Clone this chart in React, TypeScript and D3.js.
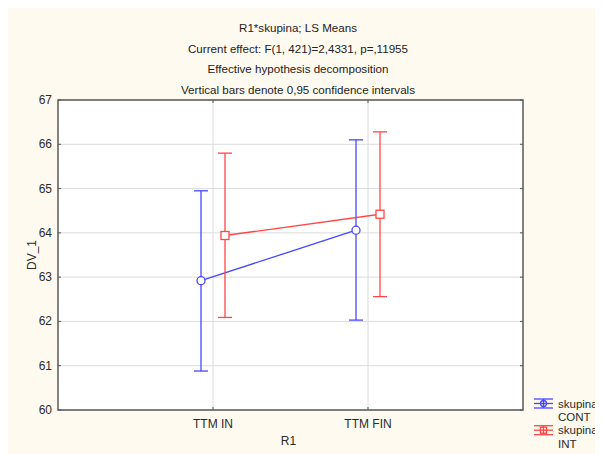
import React from "react";
import * as d3 from "d3";

const categories = ["TTM IN", "TTM FIN"];
const groups = ["CONT", "INT"];
const means = {
  CONT: [62.92, 64.06],
  INT: [63.94, 64.42],
};
const lower = {
  CONT: [60.88, 62.03],
  INT: [62.09, 62.56],
};
const upper = {
  CONT: [64.95, 66.1],
  INT: [65.8, 66.28],
};
const yTicks = [60, 61, 62, 63, 64, 65, 66, 67];
const titleLines = [
  "R1*skupina; LS Means",
  "Current effect: F(1, 421)=2,4331, p=,11955",
  "Effective hypothesis decomposition",
  "Vertical bars denote 0,95 confidence intervals",
];
const colors: Record<string, string> = { CONT: "#4646ff", INT: "#ff4646" };
const offsets: Record<string, number> = { CONT: -12, INT: 12 };

const FONT = "'Liberation Sans', Arial, sans-serif";

export default function App() {
  const left = 58, right = 523, top = 100, bottom = 410;
  const y = d3.scaleLinear().domain([60, 67]).range([bottom, top]);
  const x = d3.scalePoint<string>().domain(categories).range([left, right]).padding(1);
  const line = d3
    .line<[number, number]>()
    .x((d) => d[0])
    .y((d) => d[1]);
  const cap = 7;

  return (
    <svg width={595} height={446} style={{ display: "block" }}>
      <g transform="translate(-8,-8)">
        <rect x={8} y={8} width={595} height={446} fill="#fffaf0" />
        {titleLines.map((t, i) => (
          <text
            key={i}
            x={298}
            y={32 + i * 20.7}
            textAnchor="middle"
            fontFamily={FONT}
            fontSize={11.6}
            fill="#222"
          >
            {t}
          </text>
        ))}
        <rect x={left} y={top} width={right - left} height={bottom - top} fill="#fff" />
        {/* grid */}
        {yTicks.map((t) => (
          <line key={"gy" + t} x1={left} x2={right} y1={y(t)} y2={y(t)} stroke="#dcdcdc" strokeWidth={1} />
        ))}
        {categories.map((c) => (
          <line key={"gx" + c} x1={x(c)!} x2={x(c)!} y1={top} y2={bottom} stroke="#dcdcdc" strokeWidth={1} />
        ))}
        {/* ticks inside */}
        {yTicks.map((t) => (
          <g key={"ty" + t}>
            <line x1={left} x2={left + 3} y1={y(t)} y2={y(t)} stroke="#555" />
            <line x1={right - 3} x2={right} y1={y(t)} y2={y(t)} stroke="#555" />
            <text
              x={left - 6}
              y={y(t) + 4}
              textAnchor="end"
              fontFamily={FONT}
              fontSize={12}
              fill="#2a2a2a"
            >
              {t}
            </text>
          </g>
        ))}
        {categories.map((c) => (
          <g key={"tx" + c}>
            <line x1={x(c)!} x2={x(c)!} y1={bottom - 3} y2={bottom} stroke="#555" />
            <line x1={x(c)!} x2={x(c)!} y1={top} y2={top + 3} stroke="#555" />
            <text x={x(c)!} y={bottom + 18} textAnchor="middle" fontFamily={FONT} fontSize={12} fill="#2a2a2a">
              {c}
            </text>
          </g>
        ))}
        <rect x={left} y={top} width={right - left} height={bottom - top} fill="none" stroke="#5a5a5a" strokeWidth={1.5} />
        {/* axis titles */}
        <text x={left + (right - left) / 2 - 2} y={445} textAnchor="middle" fontFamily={FONT} fontSize={12} fill="#2a2a2a">
          R1
        </text>
        <text
          transform={`translate(${36},${(top + bottom) / 2}) rotate(-90)`}
          textAnchor="middle"
          fontFamily={FONT}
          fontSize={12}
          fill="#2a2a2a"
        >
          DV_1
        </text>
        {/* series */}
        {groups.map((g) => {
          const col = colors[g];
          const pts: [number, number][] = categories.map((c, i) => [x(c)! + offsets[g], y((means as any)[g][i])]);
          return (
            <g key={g}>
              {categories.map((c, i) => {
                const cx = x(c)! + offsets[g];
                const lo = y((lower as any)[g][i]);
                const hi = y((upper as any)[g][i]);
                return (
                  <g key={c}>
                    <line x1={cx} x2={cx} y1={lo} y2={hi} stroke={col} strokeWidth={1.3} />
                    <line x1={cx - cap} x2={cx + cap} y1={lo} y2={lo} stroke={col} strokeWidth={1.3} />
                    <line x1={cx - cap} x2={cx + cap} y1={hi} y2={hi} stroke={col} strokeWidth={1.3} />
                  </g>
                );
              })}
              <path d={line(pts)!} fill="none" stroke={col} strokeWidth={1.3} />
              {pts.map((p, i) =>
                g === "CONT" ? (
                  <circle key={i} cx={p[0]} cy={p[1]} r={4} fill="#fff" stroke={col} strokeWidth={1.3} />
                ) : (
                  <rect key={i} x={p[0] - 4} y={p[1] - 4} width={8} height={8} fill="#fff" stroke={col} strokeWidth={1.3} />
                )
              )}
            </g>
          );
        })}
        {/* legend */}
        {groups.map((g, i) => {
          const col = colors[g];
          const cy = 403.5 + i * 26.7;
          const x0 = 534, x1 = 553, xm = 543.5;
          return (
            <g key={"lg" + g}>
              <line x1={x0} x2={x1} y1={cy - 4.5} y2={cy - 4.5} stroke={col} strokeWidth={1.3} />
              <line x1={x0} x2={x1} y1={cy + 4.5} y2={cy + 4.5} stroke={col} strokeWidth={1.3} />
              <line x1={x0} x2={x1} y1={cy} y2={cy} stroke={col} strokeWidth={1.3} />
              <line x1={xm} x2={xm} y1={cy - 4.5} y2={cy + 4.5} stroke={col} strokeWidth={1.3} />
              {g === "CONT" ? (
                <circle cx={xm} cy={cy} r={3} fill="none" stroke={col} strokeWidth={1.3} />
              ) : (
                <rect x={xm - 3} y={cy - 3} width={6} height={6} fill="none" stroke={col} strokeWidth={1.3} />
              )}
              <text x={558} y={cy + 4} fontFamily={FONT} fontSize={11.5} fill="#2a2a2a">
                skupina
              </text>
              <text x={558} y={cy + 17.5} fontFamily={FONT} fontSize={11.5} fill="#2a2a2a">
                {g}
              </text>
            </g>
          );
        })}
      </g>
    </svg>
  );
}
